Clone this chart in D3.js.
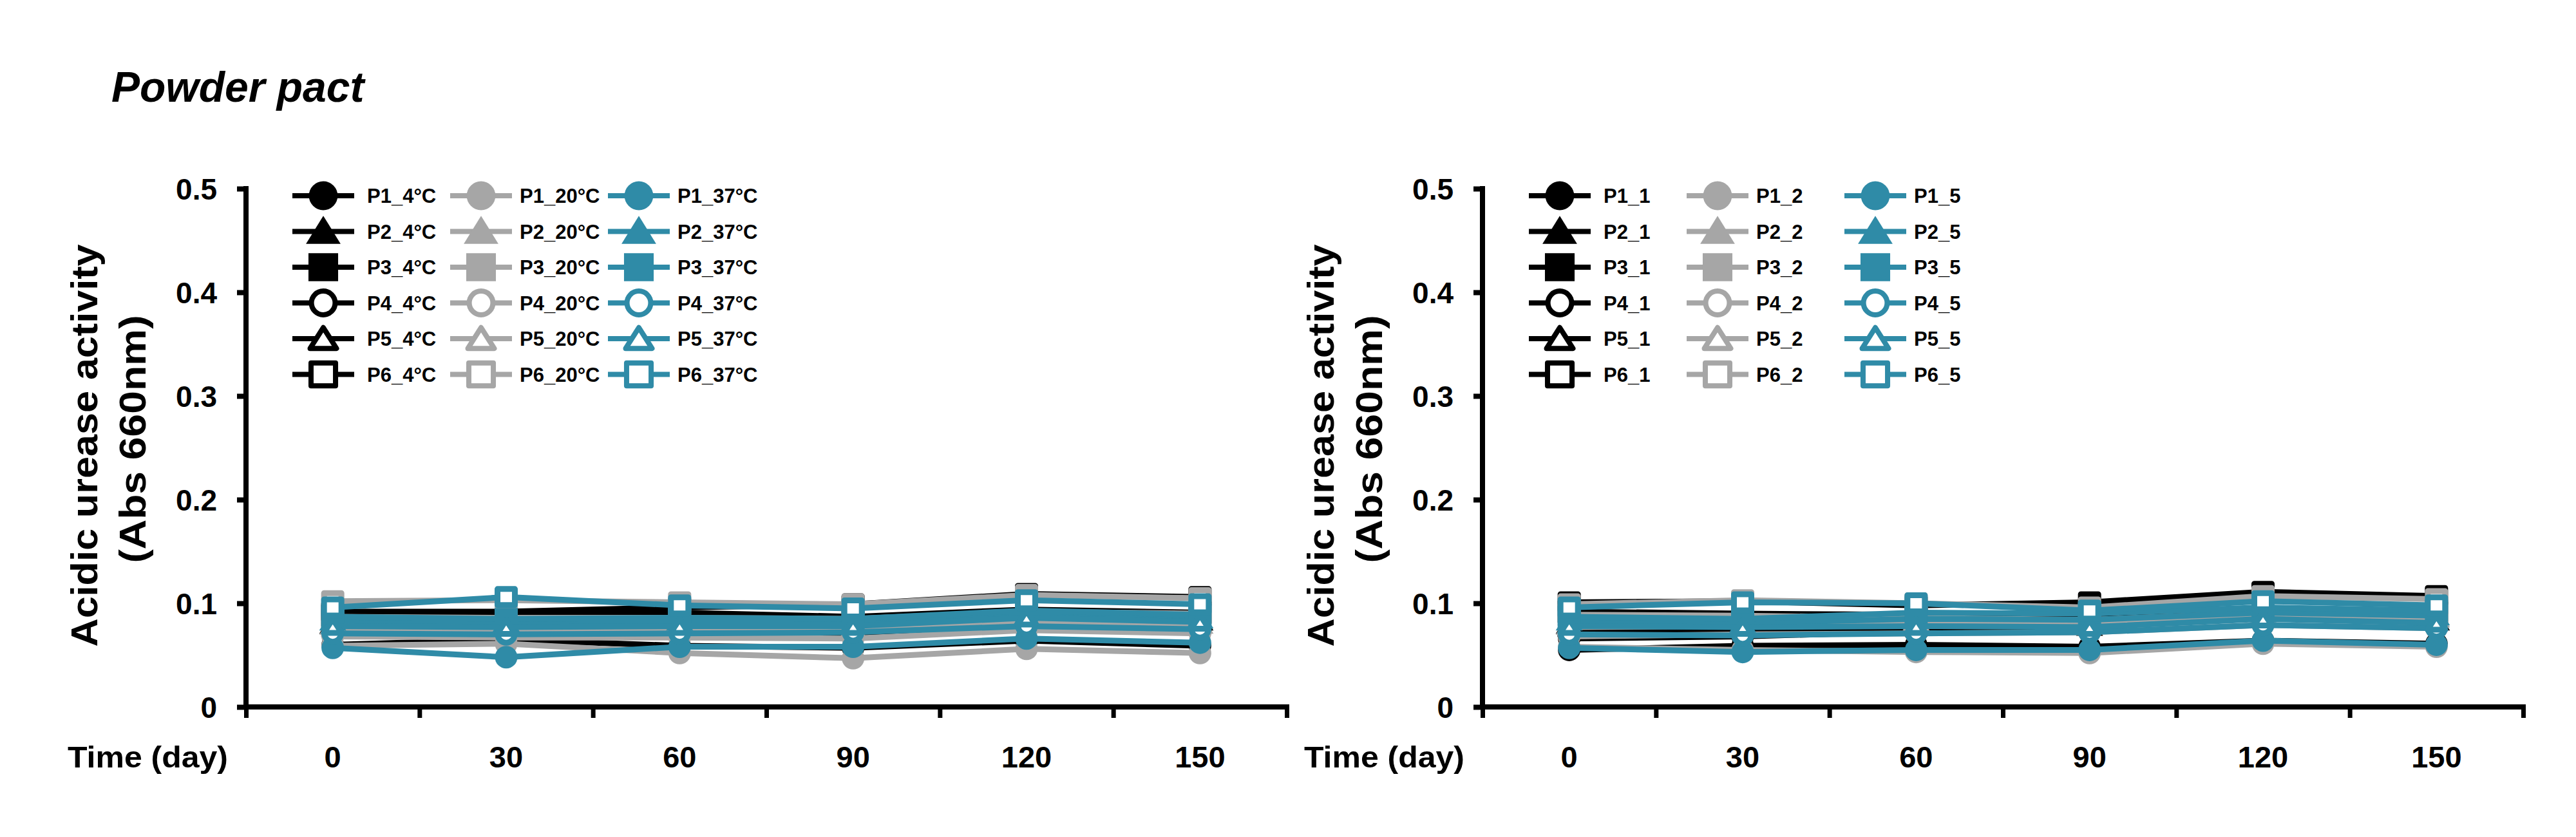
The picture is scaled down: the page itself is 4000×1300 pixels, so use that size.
<!DOCTYPE html>
<html><head><meta charset="utf-8">
<script src="https://cdn.jsdelivr.net/npm/d3@7"></script>
<style>body{margin:0;background:#fff}</style>
</head><body>
<svg id="chart" width="4000" height="1300" xmlns="http://www.w3.org/2000/svg"></svg>
<script>
// ---------------- DATA ----------------
const days = ["0", "30", "60", "90", "120", "150"];
const yTickValues = [0, 0.1, 0.2, 0.3, 0.4, 0.5];
const chartTitle = "Powder pact";
const yTitleLine1 = "Acidic urease activity";
const yTitleLine2 = "(Abs 660nm)";
const xTitle = "Time (day)";
const products = ["P1", "P2", "P3", "P4", "P5", "P6"];
const tempSuffixes = ["4°C", "20°C", "37°C"];
const condSuffixes = ["1", "2", "5"];

// Left panel: rows P1..P6, columns = days
const temp4C = [
  [0.060, 0.065, 0.059, 0.057, 0.064, 0.059],
  [0.080, 0.081, 0.081, 0.079, 0.087, 0.083],
  [0.088, 0.089, 0.091, 0.087, 0.094, 0.091],
  [0.072, 0.073, 0.072, 0.070, 0.078, 0.075],
  [0.078, 0.079, 0.078, 0.076, 0.084, 0.080],
  [0.092, 0.092, 0.096, 0.099, 0.109, 0.106]
];
const temp20C = [
  [0.059, 0.061, 0.052, 0.047, 0.056, 0.052],
  [0.079, 0.079, 0.078, 0.076, 0.084, 0.080],
  [0.087, 0.086, 0.086, 0.085, 0.092, 0.090],
  [0.068, 0.067, 0.067, 0.066, 0.074, 0.071],
  [0.075, 0.074, 0.075, 0.074, 0.081, 0.078],
  [0.102, 0.103, 0.101, 0.099, 0.108, 0.105]
];
const temp37C = [
  [0.057, 0.048, 0.058, 0.058, 0.066, 0.062],
  [0.083, 0.082, 0.083, 0.080, 0.088, 0.085],
  [0.087, 0.085, 0.086, 0.085, 0.093, 0.089],
  [0.071, 0.070, 0.071, 0.072, 0.078, 0.075],
  [0.078, 0.077, 0.078, 0.078, 0.086, 0.082],
  [0.096, 0.106, 0.098, 0.095, 0.103, 0.099]
];
// Right panel
const cond1 = [
  [0.055, 0.059, 0.060, 0.058, 0.064, 0.061],
  [0.080, 0.079, 0.079, 0.078, 0.086, 0.083],
  [0.092, 0.090, 0.089, 0.089, 0.095, 0.091],
  [0.066, 0.068, 0.073, 0.079, 0.088, 0.085],
  [0.075, 0.074, 0.076, 0.080, 0.089, 0.086],
  [0.101, 0.102, 0.098, 0.101, 0.111, 0.107]
];
const cond2 = [
  [0.058, 0.055, 0.053, 0.052, 0.061, 0.058],
  [0.079, 0.080, 0.083, 0.082, 0.089, 0.086],
  [0.089, 0.088, 0.086, 0.084, 0.091, 0.087],
  [0.068, 0.070, 0.071, 0.072, 0.079, 0.076],
  [0.077, 0.078, 0.080, 0.081, 0.088, 0.084],
  [0.099, 0.103, 0.100, 0.096, 0.107, 0.104]
];
const cond5 = [
  [0.057, 0.053, 0.055, 0.055, 0.064, 0.060],
  [0.083, 0.081, 0.085, 0.084, 0.091, 0.088],
  [0.087, 0.085, 0.091, 0.090, 0.096, 0.093],
  [0.070, 0.069, 0.071, 0.072, 0.079, 0.076],
  [0.078, 0.077, 0.078, 0.077, 0.085, 0.081],
  [0.096, 0.101, 0.100, 0.093, 0.102, 0.098]
];

// ---------------- STYLE ----------------
const groupColors = ["#000000", "#a6a6a6", "#2f8ba7"];
const shapes = ["circle", "triangle", "square", "circle", "triangle", "square"];
const filled = [true, true, true, false, false, false];
const FONT = "'Liberation Sans', Arial, Helvetica, sans-serif";

const svg = d3.select("#chart");
svg.append("rect").attr("width", 4000).attr("height", 1300).attr("fill", "#fff");

svg.append("text")
  .attr("x", 173).attr("y", 158)
  .attr("font-family", FONT).attr("font-weight", "bold").attr("font-style", "italic")
  .attr("font-size", 66).attr("fill", "#000")
  .text(chartTitle);

function markerPath(shape, s, sw) {
  // s: scale; sw: stroke width (to keep outer size constant for open markers)
  const inset = sw / 2;
  if (shape === "circle") {
    const r = 17.5 * s - inset;
    return `M${-r},0a${r},${r} 0 1,0 ${2 * r},0a${r},${r} 0 1,0 ${-2 * r},0Z`;
  }
  if (shape === "square") {
    const w = 36 * s / 2 - inset, h = 34 * s / 2 - inset;
    return `M${-w},${-h}H${w}V${h}H${-w}Z`;
  }
  const w = 42 * s / 2 - inset * 1.6, h = 34 * s;
  const top = -h * 0.56 + inset * 1.8, bot = h * 0.44 - inset;
  return `M0,${top}L${w},${bot}L${-w},${bot}Z`;
}

function drawPanel(x0, groups, suffixes) {
  const W = 1616;
  const x = d3.scaleBand().domain(days).range([x0, x0 + W]).paddingInner(0).paddingOuter(0);
  const y = d3.scaleLinear().domain([0, 0.5]).range([1098, 293]);
  const xb = d3.scaleLinear().domain([0, days.length]).range([x0, x0 + W]);
  const g = svg.append("g");

  // Y axis
  const yAxis = d3.axisLeft(y).tickValues(yTickValues).tickSize(14).tickSizeOuter(0).tickPadding(31)
    .tickFormat(d => d === 0 ? "0" : d3.format(".1f")(d));
  const gy = g.append("g").attr("transform", `translate(${x0},0)`).call(yAxis);
  gy.select(".domain").remove();
  gy.selectAll(".tick line").attr("stroke", "#000").attr("stroke-width", 8);
  gy.selectAll(".tick text").attr("font-family", FONT).attr("font-weight", "bold")
    .attr("font-size", 46).attr("fill", "#000").attr("dy", "0.36em");

  // X axis: tick marks at band boundaries
  const xTickAxis = d3.axisBottom(xb).tickValues(d3.range(days.length + 1)).tickSize(17).tickSizeOuter(0).tickFormat("");
  const gxt = g.append("g").attr("transform", "translate(0,1098)").call(xTickAxis);
  gxt.select(".domain").remove();
  gxt.selectAll(".tick line").attr("stroke", "#000").attr("stroke-width", 7);

  // X axis labels at band centers
  const xLabAxis = d3.axisBottom(x).tickSize(0).tickPadding(0);
  const gxl = g.append("g").attr("transform", "translate(0,1098)").call(xLabAxis);
  gxl.select(".domain").remove();
  gxl.selectAll(".tick text").attr("font-family", FONT).attr("font-weight", "bold")
    .attr("font-size", 47).attr("fill", "#000").attr("y", 94).attr("dy", 0);

  // axis lines
  g.append("line").attr("x1", x0).attr("x2", x0).attr("y1", y(0.5) - 4).attr("y2", y(0) + 4)
    .attr("stroke", "#000").attr("stroke-width", 8);
  g.append("line").attr("x1", x0 - 4).attr("x2", x0 + W + 4).attr("y1", y(0)).attr("y2", y(0))
    .attr("stroke", "#000").attr("stroke-width", 8);

  // axis titles
  g.append("text").attr("x", x0 - 277).attr("y", 1192)
    .attr("font-family", FONT).attr("font-weight", "bold").attr("font-size", 47).attr("fill", "#000")
    .attr("textLength", 249).attr("lengthAdjust", "spacingAndGlyphs")
    .text(xTitle);
  const yt = g.append("g").attr("transform", `translate(${x0 - 231},692) rotate(-90)`);
  yt.append("text").attr("x", 0).attr("y", 0).attr("text-anchor", "middle")
    .attr("font-family", FONT).attr("font-weight", "bold").attr("font-size", 57).attr("fill", "#000")
    .attr("textLength", 625).attr("lengthAdjust", "spacingAndGlyphs").text(yTitleLine1);
  yt.append("text").attr("x", 10).attr("y", 75).attr("text-anchor", "middle")
    .attr("font-family", FONT).attr("font-weight", "bold").attr("font-size", 58).attr("fill", "#000")
    .attr("textLength", 385).attr("lengthAdjust", "spacingAndGlyphs").text(yTitleLine2);

  // series
  const line = d3.line().x((d, i) => x(days[i]) + x.bandwidth() / 2).y(d => y(d));
  groups.forEach((grp, gi) => {
    const col = groupColors[gi];
    grp.forEach((vals, pi) => {
      const sg = g.append("g");
      sg.append("path").attr("d", line(vals)).attr("fill", "none")
        .attr("stroke", col).attr("stroke-width", 9).attr("stroke-linejoin", "round");
      const sw = filled[pi] ? 0 : 9;
      sg.selectAll("path.m").data(vals).join("path").attr("class", "m")
        .attr("transform", (d, i) => `translate(${x(days[i]) + x.bandwidth() / 2},${y(d)})`)
        .attr("d", markerPath(shapes[pi], 1, sw))
        .attr("fill", filled[pi] ? col : "#fff")
        .attr("stroke", filled[pi] ? "none" : col)
        .attr("stroke-width", sw)
        .attr("stroke-linejoin", "round");
    });
  });

  // legend
  groups.forEach((grp, gi) => {
    const col = groupColors[gi];
    const cx = x0 + 120 + gi * 245;
    products.forEach((p, pi) => {
      const cy = 304 + pi * 55.5;
      const lg = g.append("g");
      lg.append("line").attr("x1", cx - 48).attr("x2", cx + 48).attr("y1", cy).attr("y2", cy)
        .attr("stroke", col).attr("stroke-width", 8);
      const sw = filled[pi] ? 0 : 8;
      lg.append("path").attr("transform", `translate(${cx},${cy})`)
        .attr("d", markerPath(shapes[pi], 1.28, sw))
        .attr("fill", filled[pi] ? col : "#fff")
        .attr("stroke", filled[pi] ? "none" : col).attr("stroke-width", sw)
        .attr("stroke-linejoin", "round");
      lg.append("text").attr("x", cx + (gi === 0 ? 68 : 60)).attr("y", cy + 11)
        .attr("font-family", FONT).attr("font-weight", "bold").attr("font-size", 31).attr("fill", "#000")
        .text(`${p}_${suffixes[gi]}`);
    });
  });
}

drawPanel(382, [temp4C, temp20C, temp37C], tempSuffixes);
drawPanel(2302, [cond1, cond2, cond5], condSuffixes);
</script>
</body></html>
